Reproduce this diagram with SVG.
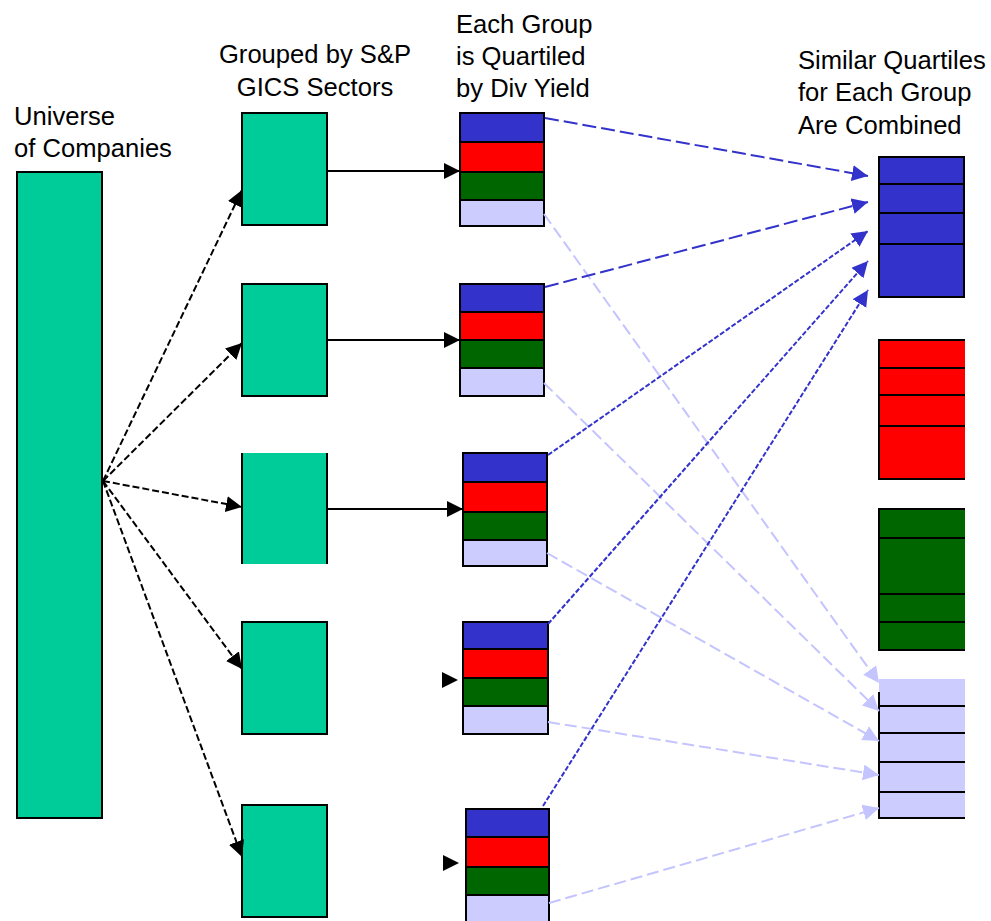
<svg xmlns="http://www.w3.org/2000/svg" width="991" height="921" viewBox="0 0 991 921">
<style>
text{font-family:"Liberation Sans",Arial,sans-serif;font-size:25.6px;fill:#000}
.teal{fill:#00cc99}
.bd{fill:none;stroke:#000;stroke-width:2}
.q1{fill:#3333cc}.q2{fill:#ff0000}.q3{fill:#006600}.q4{fill:#ccccff}
.sep{stroke:#000;stroke-width:2}
.blk{stroke:#000;stroke-width:2;fill:none}
.dash{stroke-dasharray:7 3}
.bl{stroke:#3333cc;stroke-width:2;fill:none}
.lb{stroke:#c4c4ff;stroke-width:2;fill:none;stroke-dasharray:12 5}
.ah{fill:#000}
</style>
<defs>
<marker id="aBlk" markerUnits="userSpaceOnUse" markerWidth="18" markerHeight="18" refX="16" refY="8" orient="auto"><path d="M0,0 L16,8 L0,16 Z" fill="#000"/></marker>
<marker id="aBlu" markerUnits="userSpaceOnUse" markerWidth="18" markerHeight="18" refX="16" refY="8" orient="auto"><path d="M0,0 L16,8 L0,16 Z" fill="#3333cc"/></marker>
<marker id="aLb" markerUnits="userSpaceOnUse" markerWidth="18" markerHeight="18" refX="16" refY="8" orient="auto"><path d="M0,0 L16,8 L0,16 Z" fill="#c4c4ff"/></marker>
</defs>

<g id="labels">
<text x="14" y="125">Universe</text>
<text x="14" y="157">of Companies</text>
<text x="315" y="63" text-anchor="middle">Grouped by S&amp;P</text>
<text x="315" y="96" text-anchor="middle">GICS Sectors</text>
<text x="456" y="33">Each Group</text>
<text x="456" y="65">is Quartiled</text>
<text x="456" y="97">by Div Yield</text>
<text x="798" y="69">Similar Quartiles</text>
<text x="798" y="101">for Each Group</text>
<text x="798" y="134">Are Combined</text>
</g>

<g id="universe">
<rect x="17" y="172" width="85" height="646" class="teal"/>
<rect x="17" y="172" width="85" height="646" class="bd"/>
</g>

<g id="sector1"><rect x="242" y="113" width="85" height="112" class="teal"/><rect x="242" y="113" width="85" height="112" class="bd"/></g>
<g id="sector2"><rect x="242" y="284" width="85" height="112" class="teal"/><rect x="242" y="284" width="85" height="112" class="bd"/></g>
<g id="sector3"><rect x="242" y="453" width="85" height="111" class="teal"/><path d="M242,453V564M327,453V564" class="sep"/></g>
<g id="sector4"><rect x="242" y="622" width="85" height="112" class="teal"/><rect x="242" y="622" width="85" height="112" class="bd"/></g>
<g id="sector5"><rect x="242" y="805" width="85" height="112" class="teal"/><rect x="242" y="805" width="85" height="112" class="bd"/></g>

<g id="stack1">
<rect x="460" y="113" width="84" height="29" class="q1"/><rect x="460" y="142" width="84" height="30" class="q2"/><rect x="460" y="172" width="84" height="28" class="q3"/><rect x="460" y="200" width="84" height="26" class="q4"/>
<path d="M460,142H544M460,172H544M460,200H544" class="sep"/><rect x="460" y="113" width="84" height="113" class="bd"/>
</g>
<g id="stack2">
<rect x="460" y="284" width="84" height="28" class="q1"/><rect x="460" y="312" width="84" height="28" class="q2"/><rect x="460" y="340" width="84" height="28" class="q3"/><rect x="460" y="368" width="84" height="28" class="q4"/>
<path d="M460,312H544M460,340H544M460,368H544" class="sep"/><rect x="460" y="284" width="84" height="112" class="bd"/>
</g>
<g id="stack3">
<rect x="463" y="453" width="84" height="29" class="q1"/><rect x="463" y="482" width="84" height="30" class="q2"/><rect x="463" y="512" width="84" height="28" class="q3"/><rect x="463" y="540" width="84" height="26" class="q4"/>
<path d="M463,482H547M463,512H547M463,540H547" class="sep"/><rect x="463" y="453" width="84" height="113" class="bd"/>
</g>
<g id="stack4">
<rect x="463" y="622" width="85" height="27" class="q1"/><rect x="463" y="649" width="85" height="29" class="q2"/><rect x="463" y="678" width="85" height="28" class="q3"/><rect x="463" y="706" width="85" height="28" class="q4"/>
<path d="M463,649H548M463,678H548M463,706H548" class="sep"/><rect x="463" y="622" width="85" height="112" class="bd"/>
</g>
<g id="stack5">
<rect x="466" y="809" width="83" height="28" class="q1"/><rect x="466" y="837" width="83" height="30" class="q2"/><rect x="466" y="867" width="83" height="28" class="q3"/><rect x="466" y="895" width="83" height="30" class="q4"/>
<path d="M466,837H549M466,867H549M466,895H549" class="sep"/><rect x="466" y="809" width="83" height="116" class="bd"/>
</g>

<g id="combinedBlue">
<rect x="879" y="157" width="85" height="140" class="q1"/>
<path d="M879,184H964M879,213H964M879,244H964" class="sep"/>
<rect x="879" y="157" width="85" height="140" class="bd"/>
</g>
<g id="combinedRed">
<rect x="879" y="340" width="86" height="139" class="q2"/>
<path d="M879,368H965M879,395H965M879,426H965M965,340H879V479H965" class="sep" fill="none"/>
</g>
<g id="combinedGreen">
<rect x="879" y="509" width="86" height="141" class="q3"/>
<path d="M879,538H965M879,594H965M879,622H965M965,509H879V650H965" class="sep" fill="none"/>
</g>
<g id="combinedLight">
<rect x="879" y="679" width="86" height="139" class="q4"/>
<path d="M879,706H965M879,733H965M879,762H965M879,792H965M879,692V818H965" class="sep" fill="none"/>
</g>

<g id="connectors">
<path d="M103,481L242,190" class="blk dash" marker-end="url(#aBlk)"/>
<path d="M103,481L242,343" class="blk dash" marker-end="url(#aBlk)"/>
<path d="M103,481L242,507" class="blk dash" marker-end="url(#aBlk)"/>
<path d="M103,481L242,669" class="blk dash" marker-end="url(#aBlk)"/>
<path d="M103,481L242,857" class="blk dash" marker-end="url(#aBlk)"/>
<path d="M327,171H460" class="blk" marker-end="url(#aBlk)"/>
<path d="M327,340H460" class="blk" marker-end="url(#aBlk)"/>
<path d="M327,509H463" class="blk" marker-end="url(#aBlk)"/>
<path d="M442,672L458,680L442,688Z" class="ah"/>
<path d="M443,855L459,863L443,871Z" class="ah"/>

<path d="M544,214L879,683" class="lb" marker-end="url(#aLb)"/>
<path d="M544,383L879,711" class="lb" marker-end="url(#aLb)"/>
<path d="M547,553L879,741" class="lb" marker-end="url(#aLb)"/>
<path d="M548,722L879,775" class="lb" marker-end="url(#aLb)"/>
<path d="M549,903L879,808" class="lb" marker-end="url(#aLb)"/>

<path d="M545,118L868,176" class="bl" stroke-dasharray="14 5" marker-end="url(#aBlu)"/>
<path d="M545,287L868,202" class="bl" stroke-dasharray="14 5" marker-end="url(#aBlu)"/>
<path d="M548,455L868,231" class="bl" stroke-dasharray="5 2" marker-end="url(#aBlu)"/>
<path d="M548,624L868,261" class="bl" stroke-dasharray="5 2" marker-end="url(#aBlu)"/>
<path d="M543,806L868,290" class="bl" stroke-dasharray="5 2" marker-end="url(#aBlu)"/>
</g>
</svg>
